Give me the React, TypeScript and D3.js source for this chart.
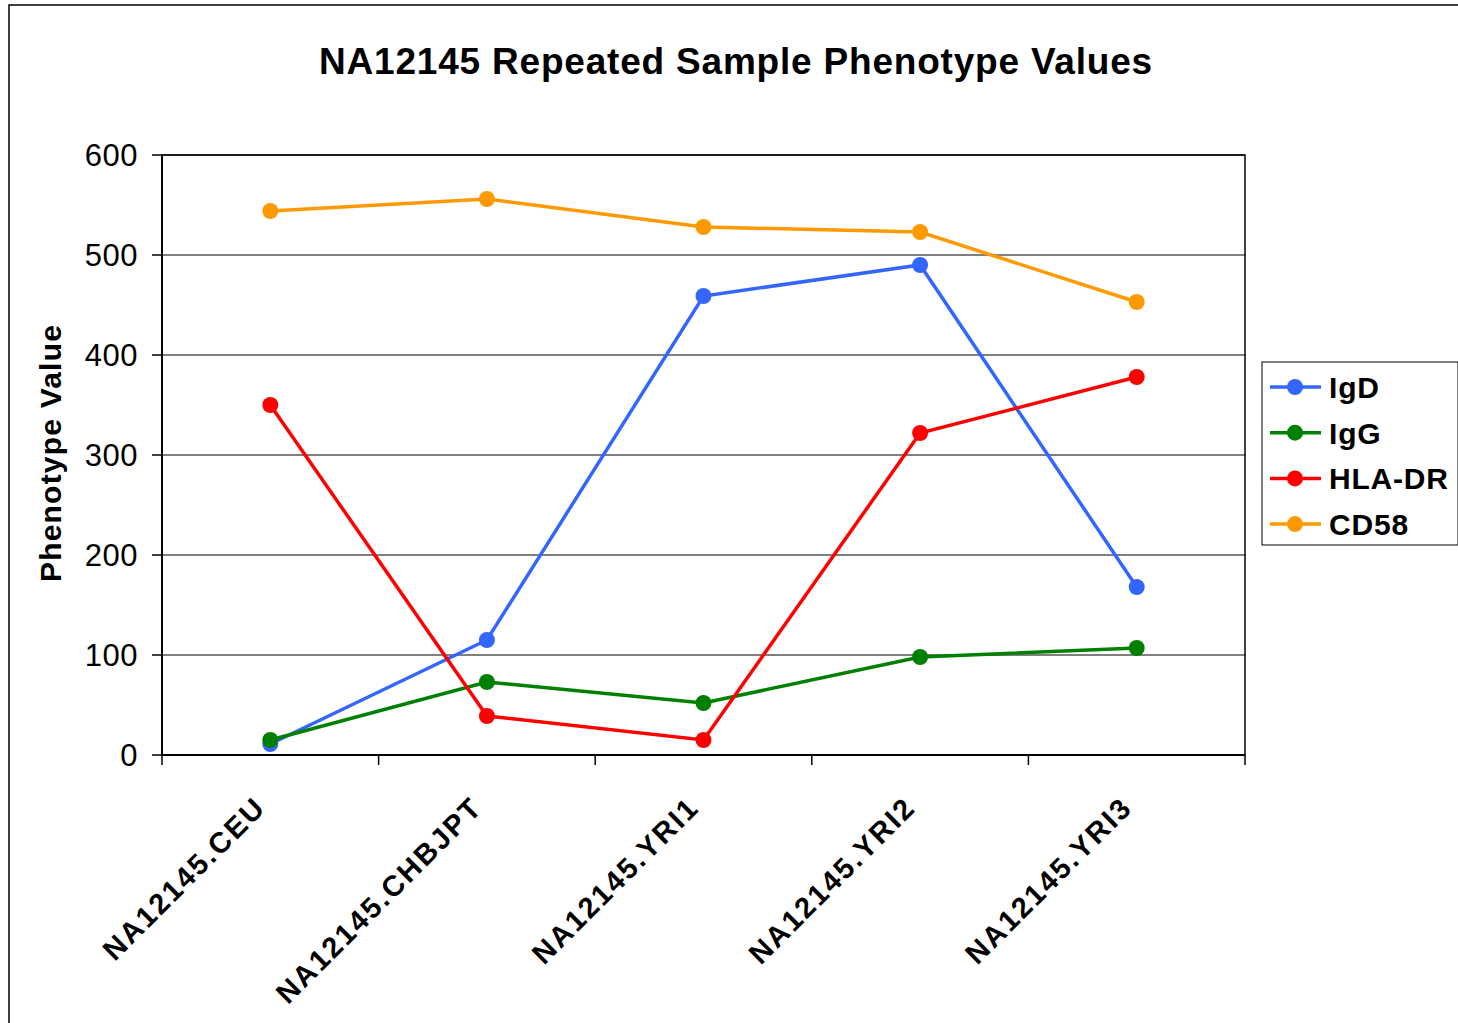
import React from 'react'
import * as d3 from 'd3'

const categories = ['NA12145.CEU', 'NA12145.CHBJPT', 'NA12145.YRI1', 'NA12145.YRI2', 'NA12145.YRI3']
const seriesNames = ['IgD', 'IgG', 'HLA-DR', 'CD58']
const seriesColors = ['#3366ff', '#008000', '#ff0000', '#ff9900']
const igD = [11, 115, 459, 490, 168]
const igG = [15, 73, 52, 98, 107]
const hlaDR = [350, 39, 15, 322, 378]
const cd58 = [544, 556, 528, 523, 453]
const yTicks = [0, 100, 200, 300, 400, 500, 600]

const W = 1458
const H = 1023
const plot = { left: 162, top: 155, right: 1245, bottom: 755 }
const font = 'Arial, "Liberation Sans", sans-serif'

export default function App() {
  const x = d3.scaleBand<string>().domain(categories).range([plot.left, plot.right])
  const y = d3.scaleLinear().domain([0, 600]).range([plot.bottom, plot.top])
  const cx = (c: string) => (x(c) ?? 0) + x.bandwidth() / 2

  const series = [igD, igG, hlaDR, cd58].map((vals, i) => ({
    name: seriesNames[i],
    color: seriesColors[i],
    points: vals.map((v, j) => ({ c: categories[j], v })),
  }))

  const line = d3.line<{ c: string; v: number }>()
    .x(d => cx(d.c))
    .y(d => y(d.v))

  // band edges for x ticks
  const xEdges = categories.map(c => x(c) ?? 0).concat([plot.right])

  return (
    <svg width={W} height={H} style={{ position: 'absolute', left: 0, top: 0, background: '#fff' }}>
      <rect x={9} y={5} width={W} height={H} fill="#fff" stroke="#000" strokeWidth={1.5} />
      <text x={736} y={74} textAnchor="middle" fontFamily={font} fontWeight="bold" fontSize={37} letterSpacing={0.8}>
        NA12145 Repeated Sample Phenotype Values
      </text>

      {/* gridlines */}
      {yTicks.map(t => (
        <line key={t} x1={plot.left} x2={plot.right} y1={y(t)} y2={y(t)} stroke="#000" strokeWidth={1} />
      ))}
      <rect x={plot.left} y={plot.top} width={plot.right - plot.left} height={plot.bottom - plot.top}
        fill="none" stroke="#000" strokeWidth={1.5} />
      <line x1={plot.left} x2={plot.right} y1={plot.bottom} y2={plot.bottom} stroke="#000" strokeWidth={2} />
      <line x1={plot.left} x2={plot.left} y1={plot.top} y2={plot.bottom} stroke="#000" strokeWidth={2} />

      {/* y axis ticks */}
      {yTicks.map(t => (
        <g key={t}>
          <line x1={plot.left - 10} x2={plot.left} y1={y(t)} y2={y(t)} stroke="#000" strokeWidth={1.5} />
          <text x={138} y={y(t)} dy="0.36em" textAnchor="end" fontFamily={font} fontSize={31} letterSpacing={0.5}>{t}</text>
        </g>
      ))}
      <text transform={`translate(61, ${(plot.top + plot.bottom) / 2 - 2}) rotate(-90)`} textAnchor="middle"
        fontFamily={font} fontWeight="bold" fontSize={30} letterSpacing={1.2}>Phenotype Value</text>

      {/* x axis ticks */}
      {xEdges.map((e, i) => (
        <line key={i} x1={e} x2={e} y1={plot.bottom} y2={plot.bottom + 10} stroke="#000" strokeWidth={1.5} />
      ))}
      {categories.map(c => (
        <text key={c} transform={`translate(${cx(c) - 10}, ${plot.bottom + 47}) rotate(-45)`} textAnchor="end"
          dy="0.35em" fontFamily={font} fontWeight="bold" fontSize={29} letterSpacing={2.2}>{c}</text>
      ))}

      {/* series */}
      {series.map(s => (
        <g key={s.name}>
          <path d={line(s.points) ?? ''} fill="none" stroke={s.color} strokeWidth={3.5} />
          {s.points.map(p => (
            <circle key={p.c} cx={cx(p.c)} cy={y(p.v)} r={8} fill={s.color} />
          ))}
        </g>
      ))}

      {/* legend */}
      <rect x={1262} y={362} width={196} height={183} fill="#fff" stroke="#000" strokeWidth={1} />
      {series.map((s, i) => (
        <g key={s.name} transform={`translate(1270, ${387 + i * 45.7})`}>
          <line x1={0} x2={51} y1={0} y2={0} stroke={s.color} strokeWidth={3.5} />
          <circle cx={25} cy={0} r={8} fill={s.color} />
          <text x={59} y={0} dy="0.36em" fontFamily={font} fontWeight="bold" fontSize={30} letterSpacing={0.8}>{s.name}</text>
        </g>
      ))}
    </svg>
  )
}
